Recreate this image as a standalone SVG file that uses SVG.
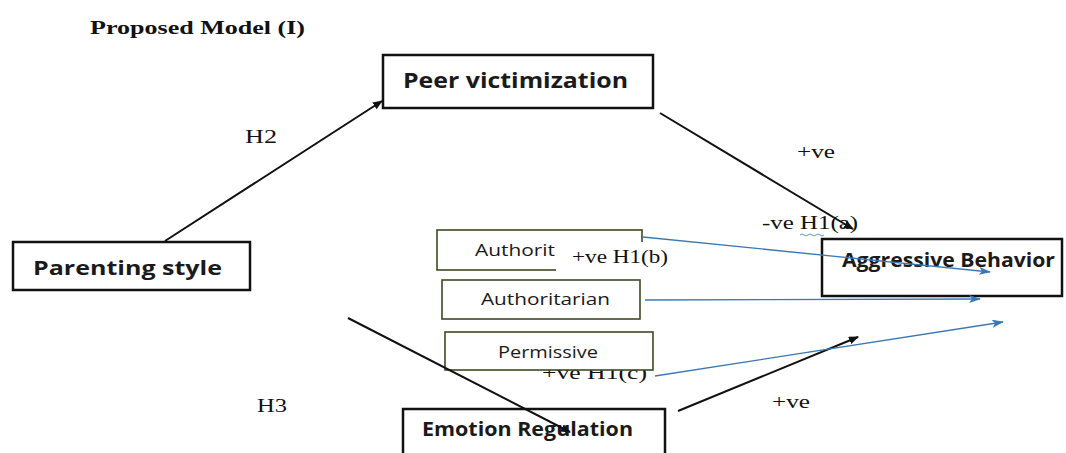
<svg xmlns="http://www.w3.org/2000/svg" width="1066" height="453" viewBox="0 0 1066 453">
<style>
.box{fill:#fff;stroke:#111;stroke-width:2.5}
.sub{fill:#fff;stroke:#3b4a22;stroke-width:1.6}
.lab{font-family:"Open Sans","Liberation Sans",sans-serif;font-weight:bold;fill:#1a1a1a}
.slab{font-family:"Open Sans","Liberation Sans",sans-serif;fill:#1a1a1a;font-size:17px}
.ser{font-family:"Liberation Serif",serif;fill:#111;font-size:18px}
.blk{stroke:#111;stroke-width:2;fill:none}
.blu{stroke:#3a78b5;stroke-width:1.3;fill:none}
</style>
<defs>
<marker id="ab" markerWidth="10" markerHeight="8" refX="9" refY="4" orient="auto" markerUnits="userSpaceOnUse" viewBox="0 0 10 8"><path d="M0,0 L10,4 L0,8 z" fill="#111"/></marker>
<marker id="au" markerWidth="12" markerHeight="8" refX="11" refY="4" orient="auto" markerUnits="userSpaceOnUse" viewBox="0 0 12 8"><path d="M0,0 L12,4 L0,8 L3,4 z" fill="#3a78b5"/></marker>
</defs>
<rect width="1066" height="453" fill="#fff"/>
<text x="90" y="34" font-family="Liberation Serif,serif" font-weight="bold" font-size="19" fill="#111" textLength="215" lengthAdjust="spacingAndGlyphs">Proposed Model (I)</text>

<text class="ser" x="542" y="379" font-size="20" textLength="105" lengthAdjust="spacingAndGlyphs">+ve H1(c)</text>

<g id="peer"><rect class="box" x="383" y="55" width="270" height="53"/><text class="lab" x="403" y="88" font-size="21" textLength="225" lengthAdjust="spacingAndGlyphs">Peer victimization</text></g>
<g id="parenting"><rect class="box" x="13" y="242" width="237" height="48"/><text class="lab" x="33" y="275" font-size="20" textLength="189" lengthAdjust="spacingAndGlyphs">Parenting style</text></g>
<g id="aggressive"><rect class="box" x="822" y="239" width="240" height="57"/><text class="lab" x="842" y="267" font-size="19" textLength="213" lengthAdjust="spacingAndGlyphs">Aggressive Behavior</text></g>
<g id="authorit"><rect class="sub" x="437" y="230" width="205" height="40"/><rect x="556" y="242" width="90" height="30" fill="#fff"/><text class="slab" x="475" y="256" textLength="80" lengthAdjust="spacingAndGlyphs">Authorit</text><text class="ser" x="572" y="263" textLength="96" lengthAdjust="spacingAndGlyphs">+ve H1(b)</text></g>
<g id="authoritarian"><rect class="sub" x="442" y="280" width="198" height="39"/><text class="slab" x="481" y="305" textLength="129" lengthAdjust="spacingAndGlyphs">Authoritarian</text></g>
<g id="permissive"><rect class="sub" x="445" y="332" width="208" height="38"/><text class="slab" x="498" y="358" textLength="100" lengthAdjust="spacingAndGlyphs">Permissive</text></g>
<g id="emotion"><rect class="box" x="403" y="409" width="262" height="50"/><text class="lab" x="422" y="436" font-size="19" textLength="211" lengthAdjust="spacingAndGlyphs">Emotion Regulation</text></g>

<g id="connectors">
<line class="blk" x1="165" y1="241" x2="382" y2="101" marker-end="url(#ab)"/>
<line class="blk" x1="660" y1="113" x2="853" y2="229" marker-end="url(#ab)"/>
<line class="blk" x1="678" y1="411" x2="858" y2="337" marker-end="url(#ab)"/>
<line class="blk" x1="348" y1="318" x2="570" y2="432" marker-end="url(#ab)"/>
<line class="blu" x1="643" y1="237" x2="990" y2="272" marker-end="url(#au)"/>
<line class="blu" x1="645" y1="300" x2="980" y2="299" marker-end="url(#au)"/>
<line class="blu" x1="655" y1="376" x2="1003" y2="322" marker-end="url(#au)"/>
</g>

<g id="labels">
<text class="ser" x="245" y="143" font-size="16" textLength="32" lengthAdjust="spacingAndGlyphs">H2</text>
<text class="ser" x="257" y="412" font-size="16" textLength="30" lengthAdjust="spacingAndGlyphs">H3</text>
<text class="ser" x="797" y="158" textLength="38" lengthAdjust="spacingAndGlyphs">+ve</text>
<text class="ser" x="772" y="408" textLength="38" lengthAdjust="spacingAndGlyphs">+ve</text>
<text class="ser" x="762" y="229" textLength="96" lengthAdjust="spacingAndGlyphs">-ve H1(a)</text>
<path d="M800,235 q2,-2 4,0 t4,0 t4,0 t4,0 t4,0 t4,0" stroke="#3a78b5" stroke-width="0.8" fill="none"/>
</g>
</svg>
